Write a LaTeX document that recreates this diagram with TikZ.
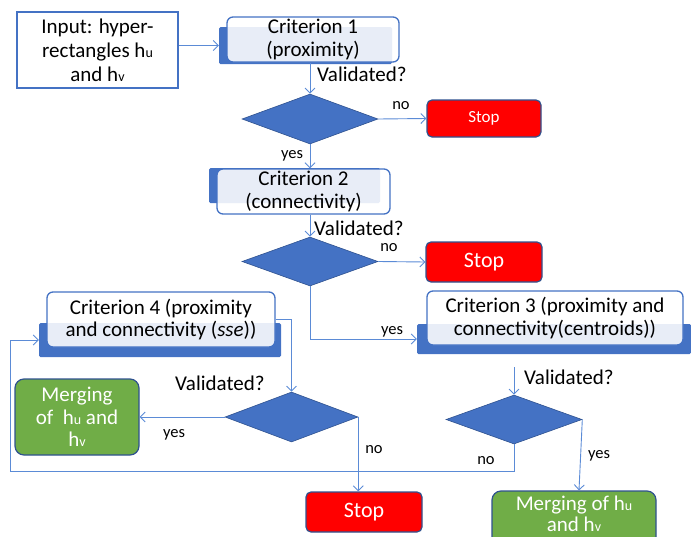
\documentclass[tikz,border=0pt]{standalone}
\usepackage{fontspec}
\setmainfont{Carlito}
\usetikzlibrary{shapes.geometric,arrows.meta}
\definecolor{cblue}{HTML}{4472C4}
\definecolor{cline}{HTML}{5B8BD6}
\definecolor{cdark}{HTML}{2F528F}
\definecolor{cred}{HTML}{FF0000}
\definecolor{cgreen}{HTML}{70AD47}
\newcommand\sbs[1]{{\fontsize{14}{14}\selectfont #1}}
\tikzset{
  txt/.style={font=\fontsize{21}{22.5}\selectfont, align=center},
  lbl/.style={font=\fontsize{16.5}{18}\selectfont, inner sep=0pt},
  mainbox/.style={draw=cblue, line width=1.3pt, fill=white, fill opacity=0.88, text opacity=1, rounded corners=6pt, inner sep=0pt, txt},
  shadowbox/.style={fill=cblue, draw=none, rounded corners=1.5pt, inner sep=0pt},
  dec/.style={diamond, fill=cblue, draw=cdark, line width=0.6pt, inner sep=0pt, aspect=2.7},
  stopbox/.style={fill=cred, draw=cdark, line width=1.2pt, rounded corners=5pt, text=white, inner sep=0pt, align=center},
  mergebox/.style={fill=cgreen, draw=cdark, line width=1.2pt, rounded corners=9pt, text=white, inner sep=0pt, txt},
  arr/.style={draw=cline, line width=0.9pt, -{Straight Barb[length=5pt,width=10pt,line width=0.9pt]}},
}
\begin{document}
\begin{tikzpicture}[x=1pt,y=-1pt]
\useasboundingbox (0,0) rectangle (691,536);
% input
\node[draw=cblue, line width=1.5pt, fill=white, minimum width=161pt, minimum height=76pt, inner sep=0pt, txt, font=\fontsize{21}{24}\selectfont] (in) at (97.5,50) {Input: hyper-\\rectangles h\sbs{u}\\and h\sbs{v}};
% criterion 1
\node[shadowbox, minimum width=173pt, minimum height=37pt] (c1d) at (305.5,45.5) {};
\node[mainbox, minimum width=172pt, minimum height=45pt] (c1) at (313,39.5) {Criterion 1\\(proximity)};
% decision 1
\node[dec, minimum width=136pt, minimum height=50pt] (d1) at (310,119) {};
\node[stopbox, minimum width=114pt, minimum height=37pt, font=\fontsize{17}{19}\selectfont] (s1) at (484,118.5) {Stop};
% criterion 2
\node[shadowbox, minimum width=171pt, minimum height=35pt] (c2d) at (294.5,185.5) {};
\node[mainbox, minimum width=173pt, minimum height=45pt] (c2) at (303.5,191.5) {Criterion 2\\(connectivity)};
% decision 2
\node[dec, minimum width=136pt, minimum height=49pt] (d2) at (310,261.5) {};
\node[stopbox, minimum width=116pt, minimum height=40pt, font=\fontsize{22}{24}\selectfont] (s2) at (484,262) {Stop};
% criterion 3
\node[shadowbox, minimum width=274pt, minimum height=30pt] (c3d) at (554,339) {};
\node[mainbox, minimum width=256pt, minimum height=54pt] (c3) at (555,318) {Criterion 3 (proximity and\\connectivity(centroids))};
% criterion 4
\node[shadowbox, minimum width=242pt, minimum height=34pt] (c4d) at (160,340) {};
\node[mainbox, minimum width=228pt, minimum height=55pt] (c4) at (161,319.5) {Criterion 4 (proximity\\and connectivity (\textit{sse}))};
% decision 3
\node[dec, minimum width=133pt, minimum height=50pt] (d3) at (291.5,417) {};
\node[mergebox, minimum width=124pt, minimum height=76pt] (m1) at (77,417) {Merging\\of~ h\sbs{u} and\\h\sbs{v}};
\node[stopbox, minimum width=116pt, minimum height=40pt, font=\fontsize{22}{24}\selectfont] (s3) at (364,512) {Stop};
% decision 4
\node[dec, minimum width=136pt, minimum height=49pt] (d4) at (514,419.5) {};
\node[mergebox, minimum width=164pt, minimum height=70pt] (m2) at (574,526) {};
\node[txt, text=white, inner sep=0pt, font=\fontsize{21}{21.5}\selectfont] (m2t) at (574,514) {Merging of h\sbs{u}\\and h\sbs{v}};
% connectors
\draw[arr] (in.east |- c1d.west) -- (c1d.west);
\draw[arr] (d1.north |- c1.south) -- (d1.north);
\draw[arr] (d1.east) -- (s1.west);
\draw[arr] (d1.south) -- (d1.south |- c2.north);
\draw[arr] (d2.north |- c2.south) -- (d2.north);
\draw[arr] (d2.east) -- (s2.west);
\draw[arr] (d2.south) |- (c3d.west);
\draw[arr] (c4.east) -| (d3.north);
\draw[arr] (d3.west) -- (m1.east);
\draw[arr] (d3.east) -- (d3.east |- s3.north);
\coordinate (c3out) at (514,367);
\draw[arr] (c3out) -- (d4.north);
\coordinate (loopc) at (10,471);
\draw[arr] (d4.south) |- (loopc) |- (c4d.west);
\draw[arr] (d4.east) -- ([xshift=5pt]m2.north);
% labels
\node[txt, anchor=west, inner sep=0pt] (v1) at (317,74) {Validated?};
\node[lbl] (n1) at (401,106) {no};
\node[lbl] (y1) at (292,156) {yes};
\node[txt, anchor=west, inner sep=0pt] (v2) at (314,228) {Validated?};
\node[lbl] (n2) at (389,248) {no};
\node[lbl] (y2) at (392,332) {yes};
\node[txt, anchor=west, inner sep=0pt] (v3) at (175,383) {Validated?};
\node[lbl] (y3) at (174,435) {yes};
\node[lbl] (n3) at (374,450) {no};
\node[txt, anchor=west, inner sep=0pt] (v4) at (524,377) {Validated?};
\node[lbl] (n4) at (486,461) {no};
\node[lbl] (y4) at (599,456) {yes};
\end{tikzpicture}
\end{document}
